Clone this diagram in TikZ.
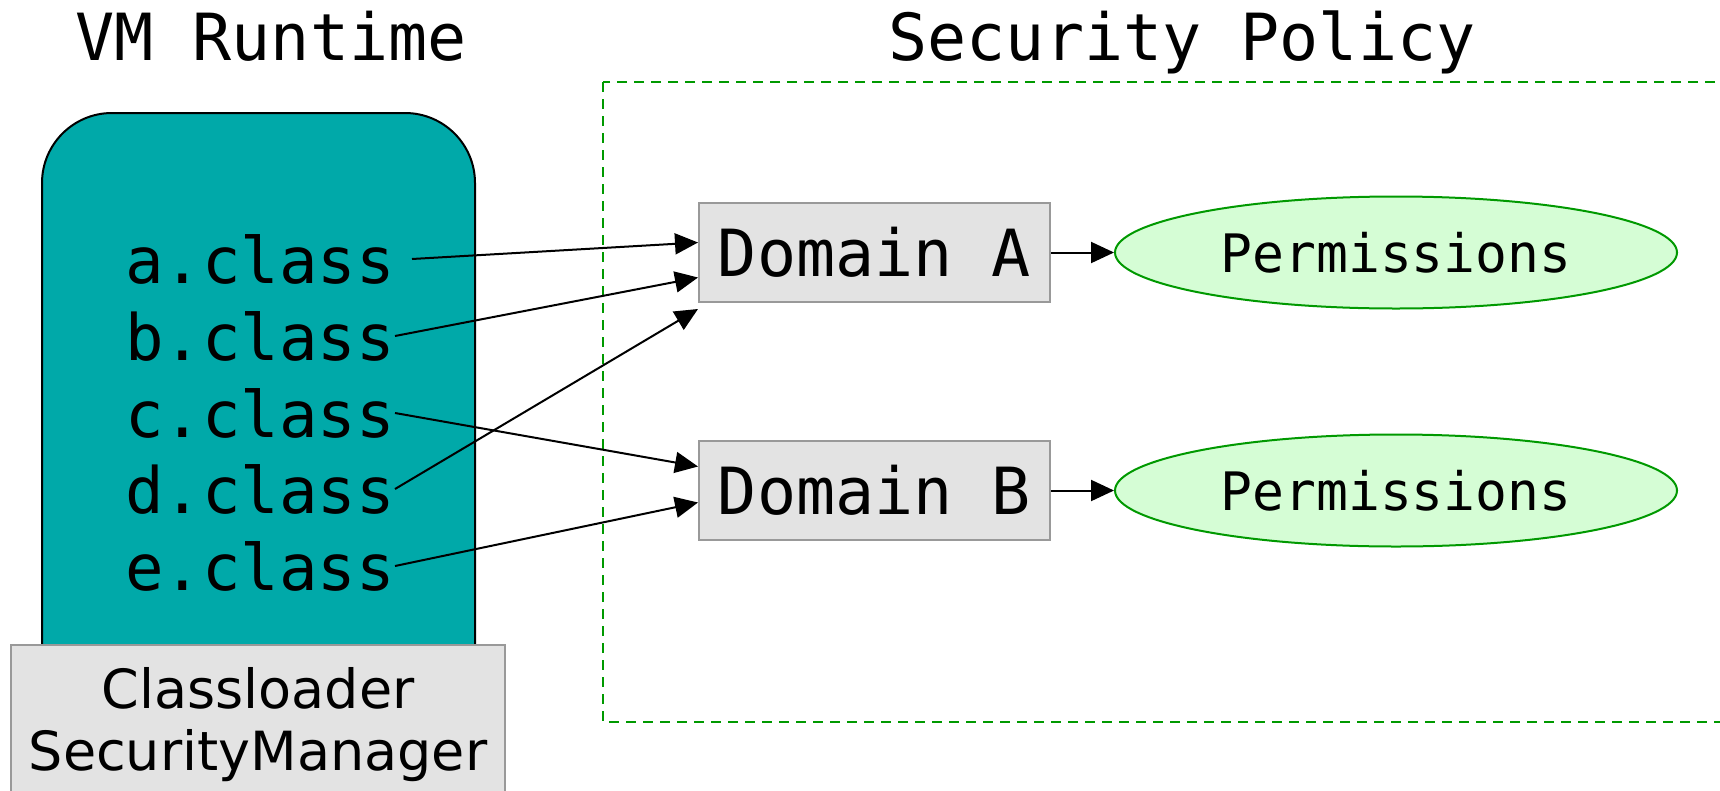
\documentclass[tikz,border=0pt]{standalone}
\usepackage{fontspec}
\setmainfont{DejaVu Sans}
\setmonofont{DejaVu Sans Mono}
\usetikzlibrary{arrows.meta,shapes.geometric,positioning}
\definecolor{vmteal}{HTML}{00A9A9}
\definecolor{boxgray}{HTML}{E3E3E3}
\definecolor{edgegray}{HTML}{999999}
\definecolor{permfill}{HTML}{D5FDD5}
\definecolor{policygreen}{HTML}{009900}
\tikzset{
	titletext/.style={font=\ttfamily\fontsize{65}{78}\selectfont, anchor=base},
	clsname/.style={font=\ttfamily\fontsize{64}{77}\selectfont, inner sep=0pt, text height=48pt, text depth=0pt, anchor=base east},
	domainbox/.style={draw=edgegray, line width=2pt, fill=boxgray, font=\ttfamily\fontsize{65}{78}\selectfont, minimum width=351pt, minimum height=99pt, inner sep=0pt},
	permbubble/.style={ellipse, draw=policygreen, fill=permfill, line width=2pt, minimum width=562pt, minimum height=112pt, font=\ttfamily\fontsize{53}{64}\selectfont, inner sep=0pt},
	linkarrow/.style={-{Triangle[length=23pt,width=21pt]}, line width=2pt}
}
\begin{document}
\begin{tikzpicture}[x=1pt,y=-1pt]
		\useasboundingbox (0,0) rectangle (1720,790);
		\node[titletext] (vmtitle) at (271,60) {VM Runtime};
		\node[titletext] (policytitle) at (1182,60) {Security Policy};
		\draw[policygreen, line width=2pt, dash pattern=on 10pt off 7pt] (603,82) rectangle (1760,722);
		\draw[fill=vmteal, line width=2pt, rounded corners=70pt] (42,113) rectangle (475,780);
		\node (loader) [draw=edgegray, fill=boxgray, line width=1.5pt, minimum width=494pt, minimum height=160pt, anchor=north, align=center, font=\fontsize{54}{62}\selectfont] at (258,644) {Classloader\\SecurityManager};
		\node[clsname] (aclass) at (395,283) {a.class};
		\node[clsname] (bclass) at (395,360) {b.class};
		\node[clsname] (cclass) at (395,437) {c.class};
		\node[clsname] (dclass) at (395,513) {d.class};
		\node[clsname] (eclass) at (395,590) {e.class};
		\node[domainbox] (domA) at (874.5,252.5) {Domain A};
		\node[domainbox] (domB) at (874.5,490.5) {Domain B};
		\node[permbubble] (permA) at (1396,252.5) {Permissions};
		\node[permbubble] (permB) at (1396,490.5) {Permissions};
		\draw[linkarrow] ([xshift=17pt]aclass.east) -- ([yshift=10pt]domA.west);
		\draw[linkarrow] (bclass.east) -- ([yshift=-25pt]domA.west);
		\draw[linkarrow] (cclass.east) -- ([yshift=24pt]domB.west);
		\draw[linkarrow] (dclass.east) -- ([yshift=-6pt]domA.south west);
		\draw[linkarrow] (eclass.east) -- ([yshift=-12pt]domB.west);
		\draw[linkarrow] (domA) -- (permA);
		\draw[linkarrow] (domB) -- (permB);
	\end{tikzpicture}
\end{document}
